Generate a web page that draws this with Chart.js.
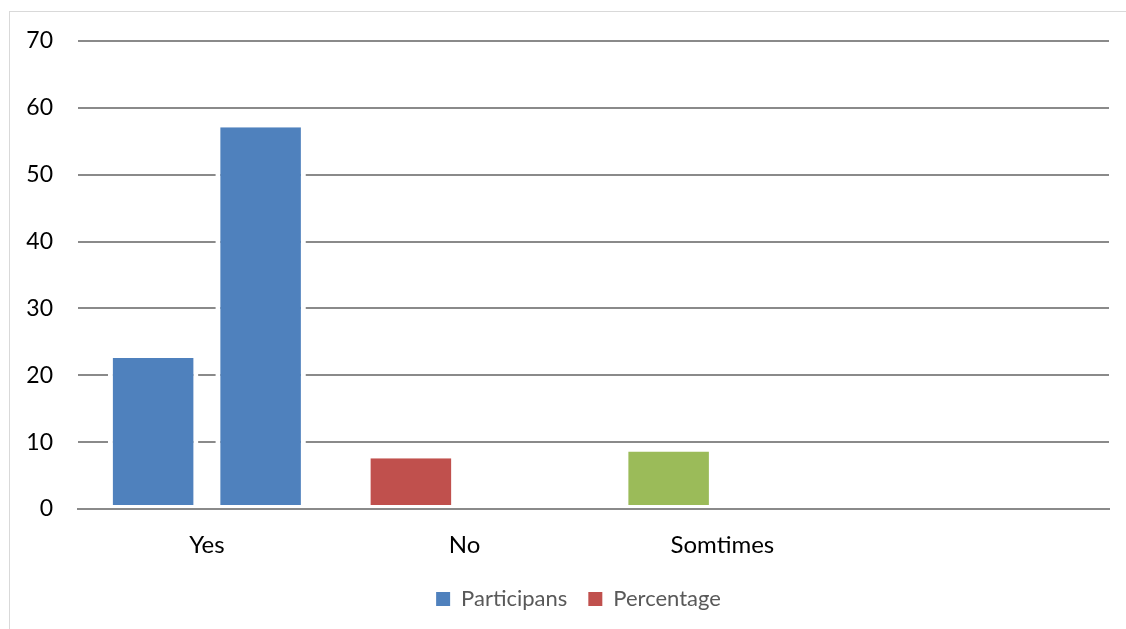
<!DOCTYPE html>
<html lang="en">
<head>
    <meta charset="UTF-8">
    <title>Participans</title>
    <script src="https://cdn.jsdelivr.net/npm/chart.js"></script>
    <style>
        html, body {
            margin: 0;
            padding: 0;
            background: #ffffff;
            width: 1126px;
            height: 629px;
            overflow: hidden;
        }

        .frame {
            position: absolute;
            left: 9px;
            top: 11px;
            border: 1px solid #d9d9d9;
        }

        .chart-box {
            position: relative;
            width: 1137px;
            height: 617px;
        }
    </style>
</head>
<body>
    <div class="frame">
        <div class="chart-box">
            <canvas id="answerChart"></canvas>
        </div>
    </div>

    <script>
        // Answers given, with an empty fourth slot on the axis
        const categories = ['Yes', 'No', 'Somtimes', ''];
        const seriesNames = ['Participans', 'Percentage'];
        const participans = [22.6, 7.6, 8.6, null];
        const percentage = [57.1, null, null, null];
        const yTicks = [0, 10, 20, 30, 40, 50, 60, 70];

        const BLUE = '#4f81bd';
        const RED = '#c0504d';
        const GREEN = '#9bbb59';
        const GRID = '#8a8a8a';

        Chart.defaults.font.family = 'Lato, "Open Sans", sans-serif';

        const barStyle = {
            borderColor: '#ffffff',
            borderWidth: { top: 0, left: 5, right: 5, bottom: 3 },
            borderSkipped: false,
            categoryPercentage: 0.834,
            barPercentage: 0.842
        };

        // legend is centred on the whole canvas, not on the padded area
        const legendSpan = {
            id: 'legendSpan',
            afterLayout(chart) {
                const lg = chart.legend;
                lg.left = 0;
                lg.right = chart.width;
                lg.width = chart.width;
            }
        };

        new Chart(document.getElementById('answerChart'), {
            type: 'bar',
            data: {
                labels: categories,
                datasets: [
                    Object.assign({
                        label: seriesNames[0],
                        data: participans,
                        backgroundColor: [BLUE, RED, GREEN, BLUE]
                    }, barStyle),
                    Object.assign({
                        label: seriesNames[1],
                        data: percentage,
                        backgroundColor: BLUE
                    }, barStyle)
                ]
            },
            plugins: [legendSpan],
            options: {
                responsive: true,
                maintainAspectRatio: false,
                animation: false,
                layout: {
                    padding: { top: 29, left: 0, right: 38, bottom: 9 }
                },
                scales: {
                    x: {
                        grid: { display: false },
                        border: { display: true, color: GRID, width: 2, z: 1 },
                        ticks: {
                            color: '#000000',
                            padding: 14,
                            font: { size: 24 }
                        },
                        afterFit: (scale) => { scale.height = 58; }
                    },
                    y: {
                        min: yTicks[0],
                        max: yTicks[yTicks.length - 1],
                        afterBuildTicks: (scale) => {
                            scale.ticks = yTicks.map(v => ({ value: v }));
                        },
                        grid: {
                            color: GRID,
                            lineWidth: 2,
                            drawTicks: true,
                            tickLength: 25,
                            tickColor: 'transparent'
                        },
                        border: { display: false },
                        ticks: {
                            color: '#000000',
                            padding: 0,
                            font: { size: 23 }
                        },
                        afterFit: (scale) => { scale.width = 68; }
                    }
                },
                plugins: {
                    tooltip: { enabled: false },
                    legend: {
                        position: 'bottom',
                        labels: {
                            color: '#595959',
                            boxWidth: 14,
                            boxHeight: 14,
                            padding: 21,
                            font: { size: 22 },
                            generateLabels: () => seriesNames.map((name, i) => ({
                                text: name,
                                fillStyle: i === 0 ? BLUE : RED,
                                strokeStyle: i === 0 ? BLUE : RED,
                                lineWidth: 0,
                                fontColor: '#595959',
                                hidden: false,
                                datasetIndex: i
                            }))
                        }
                    }
                }
            }
        });
    </script>
</body>
</html>
